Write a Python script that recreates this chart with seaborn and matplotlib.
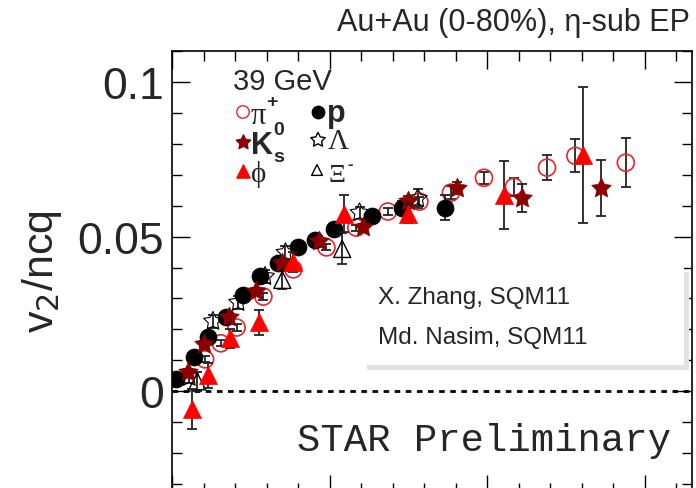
import matplotlib
matplotlib.use("Agg")
import matplotlib.pyplot as plt
import seaborn as sns
import numpy as np
import pandas as pd
from matplotlib.patches import Rectangle
from matplotlib.path import Path

# ---------------- data ----------------
pion_x = [0.21, 0.31, 0.41, 0.58, 0.77, 0.98, 1.17, 1.37, 1.57, 1.77, 1.98, 2.17, 2.38, 2.56, 2.88]
pion_y = [0.0103, 0.0155, 0.0206, 0.0306, 0.0394, 0.0465, 0.0529, 0.0581, 0.0613, 0.0642, 0.0690, 0.0661, 0.0723, 0.0761, 0.0739]
pion_e = [0.001, 0.001, 0.001, 0.001, 0.001, 0.001, 0.001, 0.001, 0.0015, 0.002, 0.002, 0.003, 0.004, 0.0053, 0.008]

prot_x = [0.025, 0.14, 0.23, 0.34, 0.45, 0.56, 0.67, 0.80, 0.91, 1.03, 1.27, 1.46, 1.73]
prot_y = [0.0039, 0.0110, 0.0174, 0.0239, 0.0310, 0.0374, 0.0416, 0.0465, 0.0490, 0.0523, 0.0565, 0.0594, 0.0594]
prot_e = [0.001, 0.001, 0.001, 0.001, 0.001, 0.001, 0.001, 0.001, 0.001, 0.001, 0.0015, 0.002, 0.004]

k0s_x = [0.10, 0.20, 0.36, 0.53, 0.70, 0.93, 1.21, 1.50, 1.81, 2.22, 2.72]
k0s_y = [0.0061, 0.0152, 0.0239, 0.0323, 0.0413, 0.0487, 0.0532, 0.0616, 0.0658, 0.0626, 0.0658]
k0s_e = [0.001, 0.001, 0.001, 0.001, 0.001, 0.001, 0.001, 0.0015, 0.002, 0.0045, 0.009]

lam_x = [0.11, 0.26, 0.42, 0.59, 0.72, 1.19, 1.56]
lam_y = [0.0045, 0.0226, 0.0287, 0.0371, 0.0448, 0.0577, 0.0623]
lam_e = [0.002, 0.002, 0.002, 0.002, 0.002, 0.002, 0.003]

phi_x = [0.13, 0.23, 0.37, 0.55, 0.77, 1.09, 1.50, 2.11, 2.61]
phi_y = [-0.0058, 0.0052, 0.0171, 0.0223, 0.0419, 0.0574, 0.0574, 0.0635, 0.0765]
phi_e = [0.0065, 0.004, 0.003, 0.004, 0.003, 0.006, 0.003, 0.011, 0.022]

xi_x = [0.16, 0.70, 1.08]
xi_y = [0.0032, 0.0360, 0.0460]
xi_e = [0.003, 0.003, 0.005]

y_ticks = [0, 0.05, 0.1]
y_ticklabels = ["0", "0.05", "0.1"]

# ---------------- figure ----------------
W, H = 696, 489
fig = plt.figure(figsize=(W / 100, H / 100), dpi=100)
sns.set_style("ticks")
plt.rcParams["font.family"] = ["Liberation Sans", "DejaVu Sans"]

def fx(px):
    return px / W

def fy(py):
    return 1 - py / H

ax_left, ax_right, ax_top, ax_bot = 172, 692, 52, 494
ax = fig.add_axes([fx(ax_left), fy(ax_bot), fx(ax_right) - fx(ax_left), fy(ax_top) - fy(ax_bot)])
ax.set_xlim(0, 3.30)
ax.set_ylim((392 - ax_bot) / 3100, (392 - ax_top) / 3100)

ERR_COL = "#222222"
STAR = Path.unit_regular_star(5, innerCircle=0.5)

def draw(xs, ys, es, marker, size, face, edge, lw, z):
    df = pd.DataFrame({"x": xs, "y": ys, "e": es})
    ax.errorbar(df["x"], df["y"], yerr=df["e"], fmt="none", ecolor=ERR_COL,
                elinewidth=1.3, capsize=3.5, capthick=1.3, zorder=z - 0.5)
    sns.scatterplot(data=df, x="x", y="y", marker=marker, s=size, ax=ax,
                    facecolors=face, edgecolor=edge, linewidth=lw, zorder=z, legend=False)

draw(pion_x, pion_y, pion_e, "o", 150, "none", "#e8242b", 1.2, 3)
draw(xi_x, xi_y, xi_e, "^", 150, "none", "black", 1.0, 3)
draw(lam_x, lam_y, lam_e, STAR, 200, "none", "black", 0.8, 3)
draw(prot_x, prot_y, prot_e, "o", 150, "black", "black", 0.5, 4)
draw(k0s_x, k0s_y, k0s_e, STAR, 220, "#8b0000", "#8b0000", 0.5, 5)
draw(phi_x, phi_y, phi_e, "^", 170, "#ff0000", "#ff0000", 0.5, 6)

ax.axhline(0, color="black", lw=2, ls=(0, (2, 2)), zorder=1)

ax.set_xlabel("")
ax.set_ylabel("")
ax.set_yticks(y_ticks)
ax.set_yticklabels(y_ticklabels, fontsize=32)
ax.set_yticks(np.arange(-0.03, 0.111, 0.01), minor=True)
ax.set_xticks([0, 1, 2, 3])
ax.set_xticklabels([])
ax.set_xticks(np.arange(0, 3.31, 0.2), minor=True)
ax.tick_params(which="both", direction="in", top=True, right=True, color="black", width=1.0)
ax.tick_params(which="major", length=13, pad=6)
ax.tick_params(which="minor", length=7)
for s in ax.spines.values():
    s.set_color("black")
    s.set_linewidth(1.2)

# y label
fig.text(fx(42), fy(272), "v$_2$/ncq", rotation=90, ha="center", va="center", fontsize=31)

# title
fig.text(fx(690), fy(23), "Au+Au (0-80%), η-sub EP", ha="right", va="center", fontsize=22)

# legend (manual)
SERIF = ["Liberation Serif", "DejaVu Serif"]
fig.text(fx(233), fy(82), "39 GeV", ha="left", va="center", fontsize=21)
leg_marks = [
    (243, 113, "o", 80, "none", "#e8242b"),
    (318, 113, "o", 80, "black", "black"),
    (243, 143, STAR, 120, "#8b0000", "#8b0000"),
    (318, 141, STAR, 120, "none", "black"),
    (243, 172, "^", 90, "#ff0000", "#ff0000"),
    (317, 171, "^", 60, "none", "black"),
]
for (px, py, m, s, fc, ec) in leg_marks:
    ax.scatter([fx(px)], [fy(py)], marker=m, s=s, facecolors=fc, edgecolors=ec,
               linewidths=1.0, transform=fig.transFigure, clip_on=False, zorder=10)

# pi+
fig.text(fx(251), fy(116), "π", ha="left", va="center", fontsize=22, family=SERIF)
fig.text(fx(266), fy(103), "+", ha="left", va="center", fontsize=14, weight="bold")
# p
fig.text(fx(327), fy(114), "p", ha="left", va="center", fontsize=22, weight="bold")
# K0s
fig.text(fx(251), fy(146), "K", ha="left", va="center", fontsize=22, weight="bold")
fig.text(fx(273), fy(131), "0", ha="left", va="center", fontsize=14, weight="bold")
fig.text(fx(273), fy(157), "s", ha="left", va="center", fontsize=14, weight="bold")
# Lambda
fig.text(fx(328), fy(142), "Λ", ha="left", va="center", fontsize=21, family=SERIF)
# phi
fig.text(fx(251), fy(175), "ϕ", ha="left", va="center", fontsize=21, family=SERIF)
# Xi-
fig.text(fx(328), fy(176), "Ξ", ha="left", va="center", fontsize=19, family=SERIF)
fig.text(fx(347), fy(164), "-", ha="left", va="center", fontsize=12, weight="bold")

# annotation box with shadow
bx0, by0, bx1, by1 = 362, 268, 684, 366
fig.patches.append(Rectangle((fx(bx0 + 5), fy(by1 + 5)), fx(bx1) - fx(bx0), fy(by0) - fy(by1),
                             transform=fig.transFigure, facecolor="#e2e2e2", edgecolor="none", zorder=20))
fig.patches.append(Rectangle((fx(bx0), fy(by1)), fx(bx1) - fx(bx0), fy(by0) - fy(by1),
                             transform=fig.transFigure, facecolor="white", edgecolor="none", zorder=21))
t1 = fig.text(fx(378), fy(298), "X. Zhang, SQM11", ha="left", va="center", fontsize=17.5)
t2 = fig.text(fx(378), fy(338), "Md. Nasim, SQM11", ha="left", va="center", fontsize=17.5)
t1.set_zorder(22)
t2.set_zorder(22)

# STAR Preliminary
fig.text(fx(297), fy(441), "STAR Preliminary", ha="left", va="center", fontsize=28,
         family=["Liberation Mono", "DejaVu Sans Mono"])

fig.savefig("out.png", dpi=100)
